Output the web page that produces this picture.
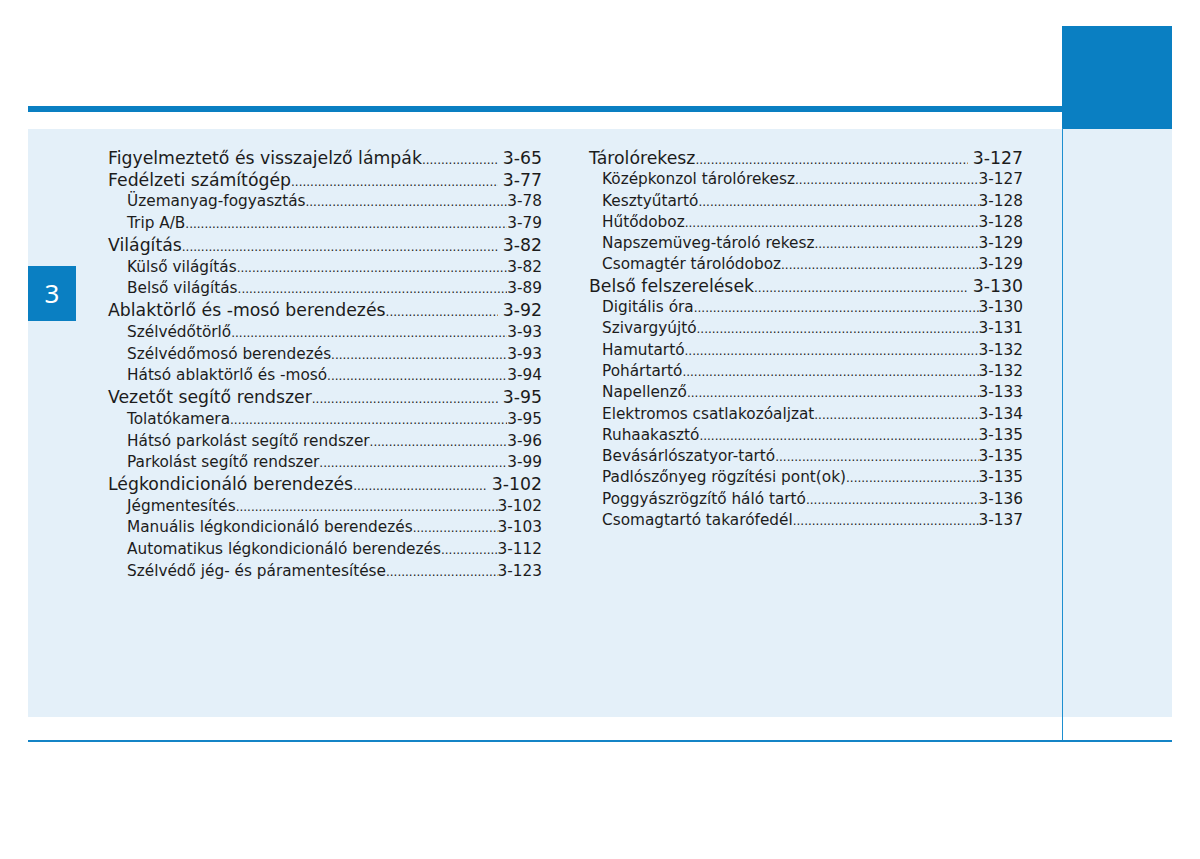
<!DOCTYPE html>
<html>
<head>
<meta charset="utf-8">
<title>Tartalom - 3</title>
<script src="https://cdn.jsdelivr.net/npm/chart.js"></script>
<style>
  body { margin: 0; width: 1200px; height: 859px; background: #fff; font-family: "DejaVu Sans", "Noto Sans", sans-serif; color: #1c1c1c; position: relative; overflow: hidden; }
  .topbar { position: absolute; left: 28px; top: 106px; width: 1034px; height: 6px; background: #0a7fc2; }
  .corner { position: absolute; left: 1062px; top: 26px; width: 110px; height: 103px; background: #0a7fc2; }
  .panel { position: absolute; left: 28px; top: 129px; width: 1144px; height: 588px; background: #e4f0f9; }
  .vline { position: absolute; left: 1062px; top: 128px; width: 1px; height: 613px; background: #1d8fd0; }
  .bottom { position: absolute; left: 28px; top: 740px; width: 1144px; height: 2px; background: #1484c6; }
  .chap { position: absolute; left: 28px; top: 266px; width: 48px; height: 55px; background: #0a7fc2; color: #fff; font-family: "Noto Sans", sans-serif; font-size: 26px; line-height: 55px; text-align: center; }
  .col { position: absolute; }
  .row { display: flex; align-items: baseline; white-space: nowrap; }
  .row .t { flex: none; }
  .row .d { flex: 1; overflow: hidden; font-size: 12px; }
  .row .d::after { content: "........................................................................................................................................................................................................"; }
  .row .p { flex: none; }
  .main { font-size: 17.3px; }
  .main .p { padding-left: 5px; }
  .sub { font-size: 15.3px; }
</style>
</head>
<body>
<div class="topbar"></div>
<div class="corner"></div>
<div class="panel"></div>
<div class="vline"></div>
<div class="bottom"></div>
<div class="chap">3</div>
<div class="col" id="left" style="left:108px; top:148px; width:434px;"></div>
<div class="col" id="right" style="left:589px; top:148px; width:434px;"></div>
<script>
  // table of contents, chapter 3 (level 0 = heading, 1 = sub entry)
  const leftTitles = [
    "Figyelmeztető és visszajelző lámpák", "Fedélzeti számítógép", "Üzemanyag-fogyasztás", "Trip A/B",
    "Világítás", "Külső világítás", "Belső világítás",
    "Ablaktörlő és -mosó berendezés", "Szélvédőtörlő", "Szélvédőmosó berendezés", "Hátsó ablaktörlő és -mosó",
    "Vezetőt segítő rendszer", "Tolatókamera", "Hátsó parkolást segítő rendszer", "Parkolást segítő rendszer",
    "Légkondicionáló berendezés", "Jégmentesítés", "Manuális légkondicionáló berendezés",
    "Automatikus légkondicionáló berendezés", "Szélvédő jég- és páramentesítése"
  ];
  const leftPages = ["3-65", "3-77", "3-78", "3-79", "3-82", "3-82", "3-89", "3-92", "3-93", "3-93", "3-94",
    "3-95", "3-95", "3-96", "3-99", "3-102", "3-102", "3-103", "3-112", "3-123"];
  const leftLevels = [0, 0, 1, 1, 0, 1, 1, 0, 1, 1, 1, 0, 1, 1, 1, 0, 1, 1, 1, 1];

  const rightTitles = [
    "Tárolórekesz", "Középkonzol tárolórekesz", "Kesztyűtartó", "Hűtődoboz", "Napszemüveg-tároló rekesz",
    "Csomagtér tárolódoboz", "Belső felszerelések", "Digitális óra", "Szivargyújtó", "Hamutartó", "Pohártartó",
    "Napellenző", "Elektromos csatlakozóaljzat", "Ruhaakasztó", "Bevásárlószatyor-tartó",
    "Padlószőnyeg rögzítési pont(ok)", "Poggyászrögzítő háló tartó", "Csomagtartó takarófedél"
  ];
  const rightPages = ["3-127", "3-127", "3-128", "3-128", "3-129", "3-129", "3-130", "3-130", "3-131", "3-132",
    "3-132", "3-133", "3-134", "3-135", "3-135", "3-135", "3-136", "3-137"];
  const rightLevels = [0, 1, 1, 1, 1, 1, 0, 1, 1, 1, 1, 1, 1, 1, 1, 1, 1, 1];

  function fill(id, titles, pages, levels, rowH) {
    const col = document.getElementById(id);
    titles.forEach((t, i) => {
      const row = document.createElement("div");
      row.className = "row " + (levels[i] ? "sub" : "main");
      row.style.height = rowH + "px";
      row.style.lineHeight = rowH + "px";
      if (levels[i]) row.style.paddingLeft = (id == "left" ? 19 : 13) + "px";
      row.innerHTML = `<span class="t">${t}</span><span class="d"></span><span class="p">${pages[i]}</span>`;
      col.appendChild(row);
    });
  }
  fill("left", leftTitles, leftPages, leftLevels, 21.74);
  fill("right", rightTitles, rightPages, rightLevels, 21.3);
</script>
</body>
</html>
